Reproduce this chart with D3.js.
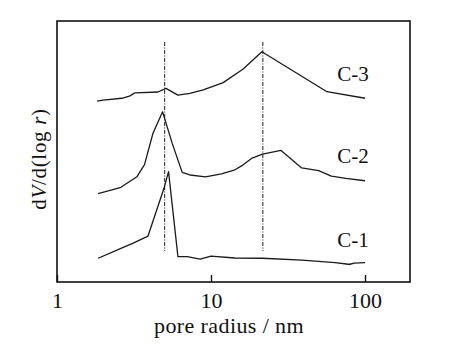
<!DOCTYPE html>
<html><head><meta charset="utf-8">
<script src="https://cdn.jsdelivr.net/npm/d3@7"></script>
<style>body{margin:0;background:#fff}svg{display:block}</style>
</head><body>
<svg id="c" width="450" height="349"></svg>
<script>
// pore radius (nm) and dV/d(log r) (arbitrary, offset) values
const c3R = [1.82,1.99,2.64,2.98,3.21,4.53,5.1,6.1,7.3,8.9,12.0,16.1,21.4,56.6,100];
const c3V = [6.93,6.97,7.04,7.13,7.25,7.28,7.42,7.16,7.23,7.36,7.64,8.15,8.82,7.29,7.04];
const c2R = [1.85,2.6,3.3,3.7,4.2,4.85,5.6,6.5,7.3,9.2,11.7,14.3,16.1,18.5,21.6,28.5,38.8,50,60.5,75,100];
const c2V = [3.39,3.63,4.03,4.5,5.7,6.52,5.31,4.2,4.1,4.03,4.14,4.3,4.48,4.75,4.9,5.04,4.37,4.27,4.06,3.97,3.88];
const c1R = [1.85,2.6,3.1,3.9,4.95,5.3,6.1,7.0,8.5,10.0,14.3,21.6,39,64,78,80,85,100];
const c1V = [0.91,1.29,1.48,1.76,3.59,4.23,0.97,0.97,0.88,0.99,0.92,0.91,0.84,0.74,0.68,0.68,0.72,0.74];
const refR = [5.0, 21.7];
const seriesNames = ["C-1","C-2","C-3"];
const xTicks = [1,10,100];

const svg = d3.select("#c");
const L=57, R=410, T=21, B=282;
const x = d3.scaleLog().domain([1, Math.pow(10,(R-L)/154)]).range([L,R]);
const y = d3.scaleLinear().domain([0,10]).range([B,T]);
const font = "'Liberation Serif','Times New Roman',serif";

// frame
svg.append("rect").attr("x",L).attr("y",T).attr("width",R-L).attr("height",B-T)
  .attr("fill","none").attr("stroke","#111").attr("stroke-width",1.6);

// x axis
const ax = svg.append("g").attr("transform",`translate(0,${B})`)
  .call(d3.axisBottom(x).tickValues(xTicks).tickFormat(d3.format("d")).tickSizeInner(-7).tickSizeOuter(0).tickPadding(10));
ax.select(".domain").remove();
ax.selectAll("line").attr("stroke","#111").attr("stroke-width",1.4);
ax.selectAll("text").attr("font-family",font).attr("font-size",22).attr("fill","#111");

// reference lines
refR.forEach(r=>{
  svg.append("line").attr("x1",x(r)).attr("x2",x(r)).attr("y1",y(9.2)).attr("y2",y(1.2))
    .attr("stroke","#333").attr("stroke-width",1.1).attr("stroke-dasharray","4,1.5,1,1.5");
});

const line = d3.line().x(d=>x(d[0])).y(d=>y(d[1]));
[[c1R,c1V],[c2R,c2V],[c3R,c3V]].forEach(([r,v])=>{
  svg.append("path").datum(r.map((d,i)=>[d,v[i]])).attr("d",line)
    .attr("fill","none").attr("stroke","#1a1a1a").attr("stroke-width",1.3).attr("stroke-linejoin","round");
});

// series labels
const labY = [1.35,4.55,7.7];
seriesNames.forEach((n,i)=>{
  svg.append("text").attr("x",x(66)).attr("y",y(labY[i])).text(n)
    .attr("font-family",font).attr("font-size",21).attr("fill","#111");
});

// axis titles
svg.append("text").attr("x",229).attr("y",333).attr("text-anchor","middle")
  .attr("font-family",font).attr("font-size",22).attr("letter-spacing",0.4).attr("fill","#111").text("pore radius / nm");
const yl = svg.append("text").attr("transform","translate(46,159) rotate(-90)").attr("text-anchor","middle")
  .attr("font-family",font).attr("font-size",21).attr("letter-spacing",0.7).attr("fill","#111");
yl.append("tspan").text("d");
yl.append("tspan").attr("font-style","italic").text("V");
yl.append("tspan").text("/d(log ");
yl.append("tspan").attr("font-style","italic").text("r");
yl.append("tspan").text(")");
</script>
</body></html>
